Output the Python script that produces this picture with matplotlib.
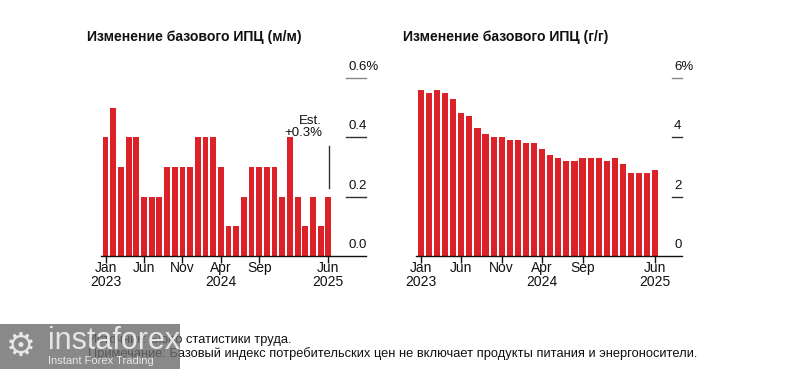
import matplotlib.pyplot as plt
from matplotlib.patches import Rectangle
from matplotlib.transforms import offset_copy

plt.rcParams['font.family'] = ['Liberation Sans', 'DejaVu Sans']

# monthly core CPI change, Jan 2023 .. Jun 2025
mom = [0.4, 0.5, 0.3, 0.4, 0.4, 0.2, 0.2, 0.2, 0.3, 0.3, 0.3, 0.3,
       0.4, 0.4, 0.4, 0.3, 0.1, 0.1, 0.2, 0.3, 0.3, 0.3, 0.3, 0.2,
       0.4, 0.2, 0.1, 0.2, 0.1, 0.2]
yoy = [5.6, 5.5, 5.6, 5.5, 5.3, 4.8, 4.7, 4.3, 4.1, 4.0, 4.0, 3.9,
       3.9, 3.8, 3.8, 3.6, 3.4, 3.3, 3.2, 3.2, 3.3, 3.3, 3.3, 3.2,
       3.3, 3.1, 2.8, 2.8, 2.8, 2.9]
tick_idx = [0, 5, 10, 15, 20, 29]
tick_month = ['Jan', 'Jun', 'Nov', 'Apr', 'Sep', 'Jun']
tick_year = ['2023', '', '', '2024', '', '2025']

left_ticks = [0.0, 0.2, 0.4, 0.6]
left_labels = ['0.0', '0.2', '0.4', '0.6%']
right_ticks = [0, 2, 4, 6]
right_labels = ['0', '2', '4', '6%']

RED = '#dd2129'
INK = '#111111'
W, H = 796, 369

fig = plt.figure(figsize=(W / 100, H / 100), dpi=100)


def px_axes(x0, x1, y_base, y_top):
    # pixel box (from top-left) -> figure fraction
    return fig.add_axes([x0 / W, (H - y_base) / H, (x1 - x0) / W, (y_base - y_top) / H])


def draw_panel(ax, values, ymax, xmax, ticks, labels, grid_len, bar_w):
    x = list(range(len(values)))
    ax.bar(x, values, width=bar_w, color=RED, zorder=2)
    ax.set_xlim(-0.6, xmax)
    ax.set_ylim(0, ymax)
    ax.axis('off')
    # baseline
    ax.plot([0, 1], [0, 0], transform=ax.transAxes, color=INK, lw=1.0, clip_on=False)
    # right-side value ticks
    ax_w = ax.get_position().width * W
    frac = grid_len / ax_w
    for v, lab in zip(ticks, labels):
        if v != 0:
            ax.plot([1 - frac, 1], [v, v], transform=ax.get_yaxis_transform(),
                    color='#888888' if lab.endswith('%') else '#333333',
                    lw=1.0, clip_on=False)
        tr = offset_copy(ax.get_yaxis_transform(), fig=fig, x=0, y=5, units='dots')
        ax.text(1 - frac + 2 / ax_w, v, lab, transform=tr, ha='left', va='bottom',
                fontsize=9.5, color=INK)
    # x ticks
    for i, m, yr in zip(tick_idx, tick_month, tick_year):
        ax.plot([i], [0], marker=3, markersize=5, mew=1.0, color=INK,
                clip_on=False, zorder=3)
        tr = offset_copy(ax.get_xaxis_transform(), fig=fig, y=-12, units='dots')
        ax.text(i, 0, m, transform=tr, ha='center', va='center', fontsize=10, color=INK)
        if yr:
            tr2 = offset_copy(ax.get_xaxis_transform(), fig=fig, y=-26, units='dots')
            ax.text(i, 0, yr, transform=tr2, ha='center', va='center', fontsize=10, color=INK)
    return ax


ax1 = px_axes(101, 366, 256, 63)
draw_panel(ax1, mom, 0.65, 33.9, left_ticks, left_labels, 20, 0.75)
ax1.text(28.2, 0.395, 'Est.\n+0.3%', ha='right', va='bottom', fontsize=9.5,
         color=INK, linespacing=1.0)
ax1.plot([29.05, 29.05], [0.229, 0.37], color='#333333', lw=1.0)

ax2 = px_axes(416, 682, 256, 63)
draw_panel(ax2, yoy, 6.5, 32.3, right_ticks, right_labels, 10, 0.77)

fig.text(87 / W, 1 - 37 / H, 'Изменение базового ИПЦ (м/м)', fontsize=10.1,
         fontweight='bold', color=INK, va='center', ha='left')
fig.text(403 / W, 1 - 37 / H, 'Изменение базового ИПЦ (г/г)', fontsize=10.1,
         fontweight='bold', color=INK, va='center', ha='left')

fig.text(88 / W, 1 - 340 / H, 'Источник: Бюро статистики труда.', fontsize=9.3,
         color=INK, va='center', ha='left')
fig.text(88 / W, 1 - 354 / H,
         'Примечание: Базовый индекс потребительских цен не включает продукты питания и энергоносители.',
         fontsize=9.3, color=INK, va='center', ha='left')

# watermark overlay
fig.patches.append(Rectangle((0, 0), 180 / W, 45 / H, transform=fig.transFigure,
                             facecolor='#6c6c6c', alpha=0.8, edgecolor='none', zorder=5))
fig.text(6 / W, 1 - 346 / H, '\u2699', fontsize=24, color='#e6e6e6', va='center',
         ha='left', family='DejaVu Sans', zorder=6)
fig.text(48 / W, 1 - 341 / H, 'instaforex', fontsize=22, color='#e6e6e6', va='center',
         ha='left', zorder=6)
fig.text(48 / W, 1 - 361 / H, 'Instant Forex Trading', fontsize=8, color='#e6e6e6',
         va='center', ha='left', zorder=6)

fig.savefig('out.png', dpi=100, facecolor='white')
